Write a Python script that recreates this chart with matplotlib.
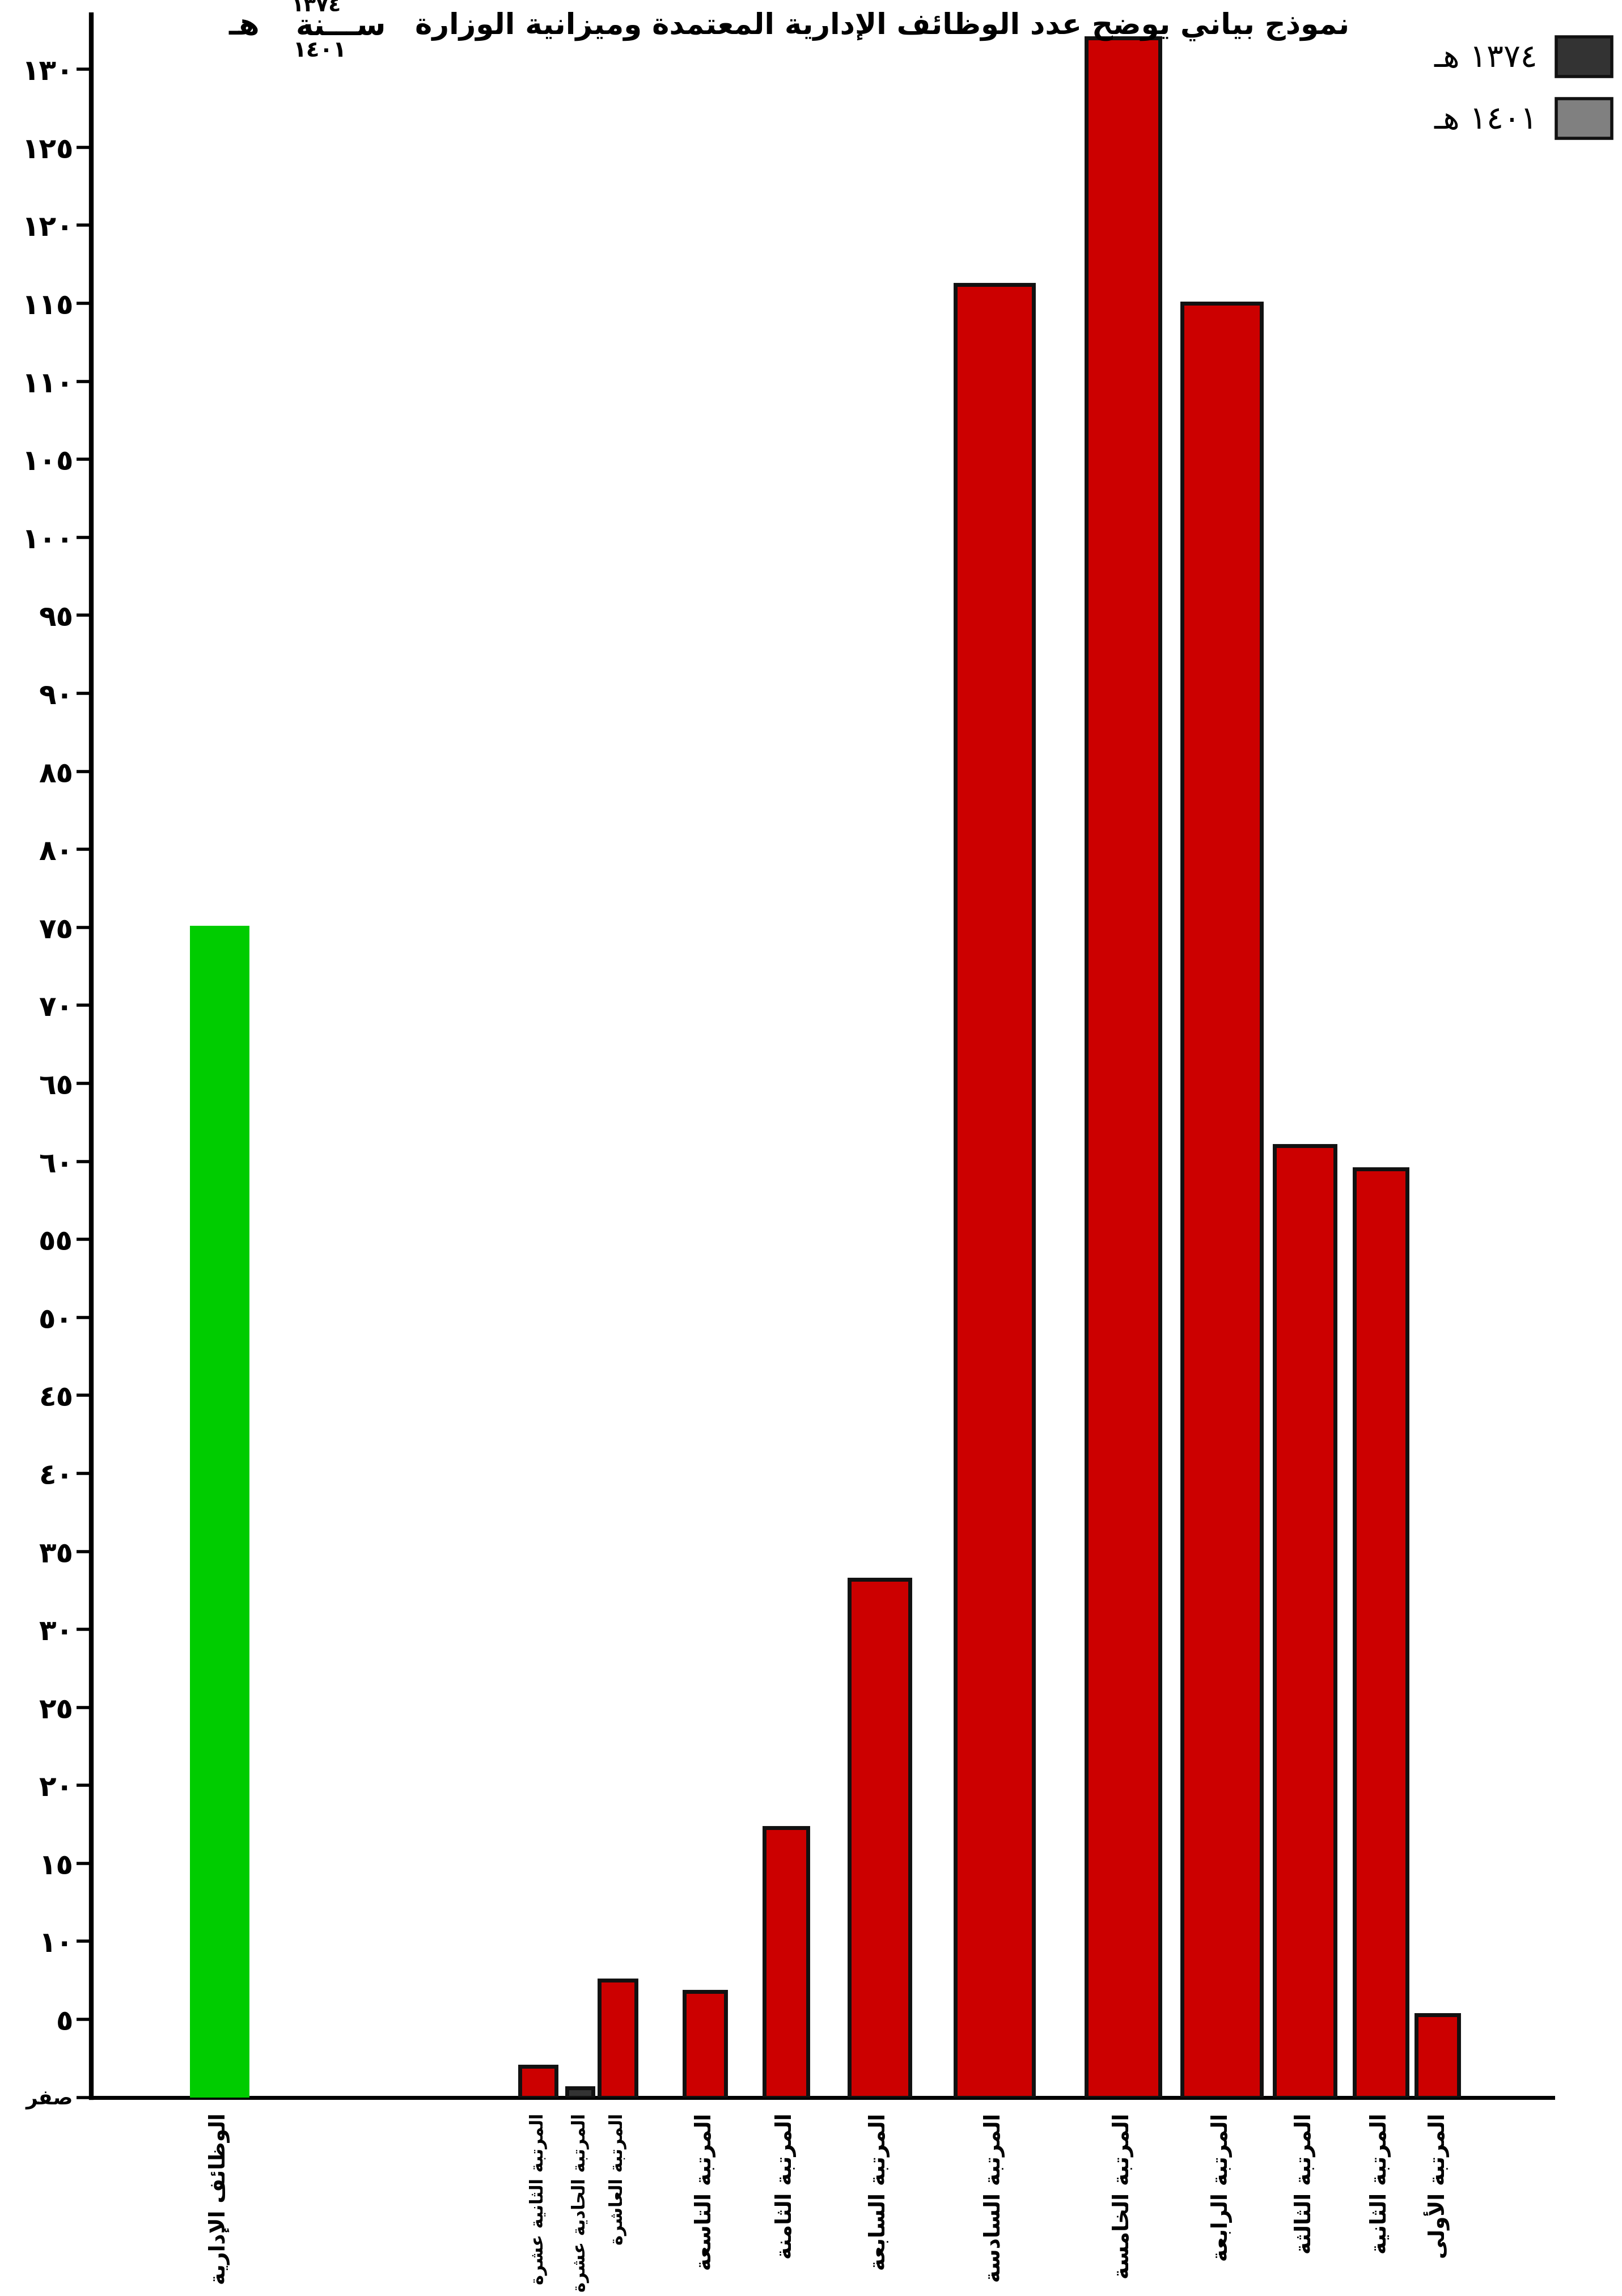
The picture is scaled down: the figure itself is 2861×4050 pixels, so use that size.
import re
import matplotlib
matplotlib.use('Agg')
import matplotlib.pyplot as plt
from matplotlib.patches import Patch

# --- data -------------------------------------------------------------
labels = ["الوظائف الإدارية", "المرتبة الثانية عشرة", "المرتبة الحادية عشرة",
          "المرتبة العاشرة", "المرتبة التاسعة", "المرتبة الثامنة",
          "المرتبة السابعة", "المرتبة السادسة", "المرتبة الخامسة",
          "المرتبة الرابعة", "المرتبة الثالثة", "المرتبة الثانية",
          "المرتبة الأولى"]
values = [75, 2, 0.6, 7.5, 6.8, 17.3, 33.2, 116.2, 132, 115, 61, 59.5, 5.3]
y_ticks = list(range(0, 131, 5))
legend_labels = ["١٣٧٤ هـ", "١٤٠١ هـ"]
title = "نموذج بياني يوضح عدد الوظائف الإدارية المعتمدة وميزانية الوزارة"

# layout (hand drawn spacing and widths)
x_pos = [87, 303.5, 332, 357.5, 417, 472, 535.5, 613.5, 701, 768, 824.5, 876, 914.5]
widths = [38, 25, 18, 25, 28, 30, 41, 53, 50, 54, 41, 36, 29]
colors = ['#00cc00', '#cc0000', '#333333'] + ['#cc0000'] * 10
edges = ['#00cc00'] + ['#111111'] * 12

# --- minimal arabic shaping (matplotlib has no complex text layout) ----
AR_FORMS = {
    'ء': (0xFE80, 1), 'آ': (0xFE81, 2), 'أ': (0xFE83, 2), 'ؤ': (0xFE85, 2),
    'إ': (0xFE87, 2), 'ئ': (0xFE89, 4), 'ا': (0xFE8D, 2), 'ب': (0xFE8F, 4),
    'ة': (0xFE93, 2), 'ت': (0xFE95, 4), 'ث': (0xFE99, 4), 'ج': (0xFE9D, 4),
    'ح': (0xFEA1, 4), 'خ': (0xFEA5, 4), 'د': (0xFEA9, 2), 'ذ': (0xFEAB, 2),
    'ر': (0xFEAD, 2), 'ز': (0xFEAF, 2), 'س': (0xFEB1, 4), 'ش': (0xFEB5, 4),
    'ص': (0xFEB9, 4), 'ض': (0xFEBD, 4), 'ط': (0xFEC1, 4), 'ظ': (0xFEC5, 4),
    'ع': (0xFEC9, 4), 'غ': (0xFECD, 4), 'ف': (0xFED1, 4), 'ق': (0xFED5, 4),
    'ك': (0xFED9, 4), 'ل': (0xFEDD, 4), 'م': (0xFEE1, 4), 'ن': (0xFEE5, 4),
    'ه': (0xFEE9, 4), 'و': (0xFEED, 2), 'ى': (0xFEEF, 2), 'ي': (0xFEF1, 4),
}
LAM_ALEF = {'ا': 0xFEFB, 'أ': 0xFEF7, 'إ': 0xFEF9, 'آ': 0xFEF5}
TATWEEL = 'ـ'


def joins_left(c):
    return c == TATWEEL or (c in AR_FORMS and AR_FORMS[c][1] == 4)


def joins_right(c):
    return c == TATWEEL or (c in AR_FORMS and AR_FORMS[c][1] >= 2)


def shape(s):
    out = []
    i = 0
    n = len(s)
    while i < n:
        c = s[i]
        p = joins_left(s[i - 1]) if i > 0 else False
        if c == 'ل' and i + 1 < n and s[i + 1] in LAM_ALEF:
            out.append(chr(LAM_ALEF[s[i + 1]] + (1 if p else 0)))
            i += 2
            continue
        if c in AR_FORMS:
            base, k = AR_FORMS[c]
            nxt = s[i + 1] if i + 1 < n else ''
            q = k == 4 and joins_right(nxt)
            p = p and k >= 2
            off = 3 if (p and q) else 2 if q else 1 if p else 0
            out.append(chr(base + off))
        else:
            out.append(c)
        i += 1
    return ''.join(out)


def ar(s):
    v = shape(s)[::-1]
    return re.sub(r'[0-9\u0660-\u0669]+', lambda m: m.group(0)[::-1], v)


def ind(n):
    return str(n).translate(str.maketrans('0123456789', '٠١٢٣٤٥٦٧٨٩'))


plt.rcParams['font.family'] = ['DejaVu Sans']

fig = plt.figure(figsize=(28.61, 40.5), dpi=100)
ax = fig.add_axes([0.0563, 0.0865, 0.9011, 0.9071])

ax.bar(x_pos, values, width=widths, color=colors, edgecolor=edges,
       linewidth=5, zorder=3)

ax.set_xlim(0, 993)
ax.set_ylim(0, 133.5)

for s in ['top', 'right']:
    ax.spines[s].set_visible(False)
ax.spines['left'].set_linewidth(6)
ax.spines['bottom'].set_linewidth(5)

ax.set_yticks(y_ticks)
ax.set_yticklabels([ar('صفر') if t == 0 else ind(t) for t in y_ticks],
                   fontsize=36, fontweight='bold')
ax.get_yticklabels()[0].set_fontsize(26)
ax.tick_params(axis='y', length=19, width=4, direction='out', pad=4)

ax.set_xticks(x_pos)
ax.set_xticklabels([ar(l) for l in labels], rotation=90, va='top',
                   fontsize=27, fontweight='bold')
ax.tick_params(axis='x', length=0, pad=20)
for i, t in enumerate(ax.get_xticklabels()):
    if i in (1, 2, 3):
        t.set_fontsize(22)

# title (cut at the top like the scan)
fig.text(0.832, 0.9885, ar(title), ha='right', va='center',
         fontsize=37, fontweight='bold')
fig.text(0.238, 0.9885, ar('ســـنة'), ha='right', va='center',
         fontsize=38, fontweight='bold')
fig.text(0.160, 0.9885, ar('هـ'), ha='right', va='center',
         fontsize=38, fontweight='bold')
fig.text(0.195, 0.9975, ind(1374), ha='center', va='center',
         fontsize=26, fontweight='bold')
fig.text(0.197, 0.978, ind(1401), ha='center', va='center',
         fontsize=28, fontweight='bold')

handles = [Patch(facecolor='#333333', edgecolor='#111111', linewidth=4),
           Patch(facecolor='#808080', edgecolor='#111111', linewidth=4)]
fig.legend(handles, [ar(l) for l in legend_labels], loc='upper right',
           bbox_to_anchor=(0.9936, 0.984), markerfirst=False, frameon=False,
           fontsize=40, handlelength=1.75, handleheight=1.56, labelspacing=0.7,
           borderpad=0, borderaxespad=0, handletextpad=0.6)

fig.savefig('out.png', dpi=100)
